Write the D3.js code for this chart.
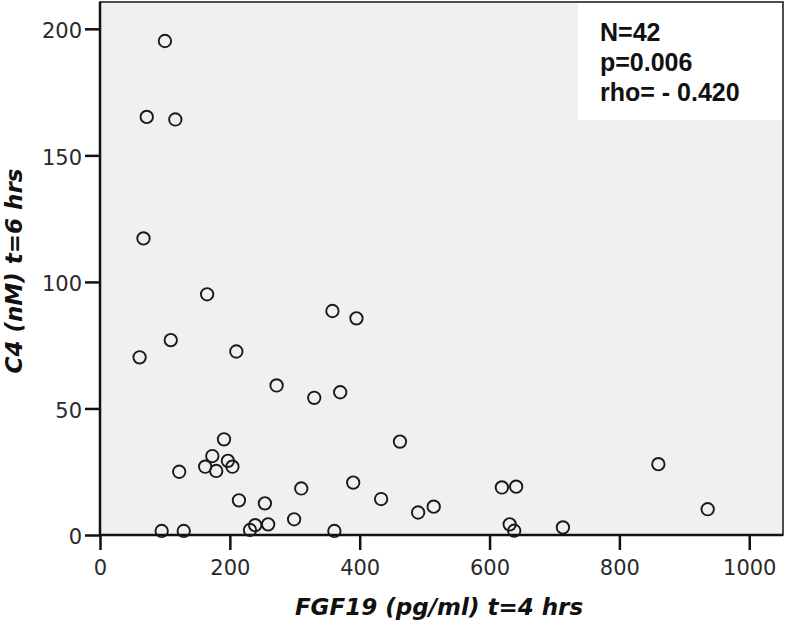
<!DOCTYPE html>
<html>
<head>
<meta charset="utf-8">
<script src="https://cdn.jsdelivr.net/npm/d3@7/dist/d3.min.js"></script>
<style>
  body{margin:0;background:#fff;}
</style>
</head>
<body>
<svg id="chart" width="787" height="629"></svg>
<script>
// FGF19 (pg/ml) t=4 hrs
var fgf19 = [100,72,116,67,165,109,61,210,358,395,272,330,370,191,462,173,162,179,197,204,
  122,214,95,129,254,239,231,259,299,310,361,390,433,490,514,619,641,631,638,713,860,936];
// C4 (nM) t=6 hrs
var c4 = [195.2,165.2,164.2,117.2,95.1,77.0,70.2,72.5,88.5,85.6,59.1,54.2,56.4,37.8,36.9,31.2,27.0,25.3,29.3,27.0,
  25.0,13.7,1.6,1.6,12.5,3.9,2.0,4.2,6.2,18.4,1.6,20.7,14.2,8.9,11.2,18.8,19.1,4.2,1.7,3.0,28.0,10.2];

var xTicks = [0,200,400,600,800,1000];
var yTicks = [0,50,100,150,200];
var statLines = ["N=42","p=0.006","rho= - 0.420"];

var svg = d3.select("#chart");

var x = d3.scaleLinear().domain([0,1052]).range([100,783]);
var y = d3.scaleLinear().domain([0,210.6]).range([535,2]);

// plot background
svg.append("rect")
  .attr("x",100).attr("y",2)
  .attr("width",683).attr("height",533)
  .attr("fill","#f0f0f0");

// stats box
var box = svg.append("g").attr("class","stats");
box.append("rect")
  .attr("x",578).attr("y",2)
  .attr("width",205).attr("height",118)
  .attr("fill","#fff");
box.selectAll("text")
  .data(statLines)
  .enter()
  .append("text")
  .attr("x",600)
  .attr("y",function(d,i){return 41+i*30;})
  .attr("font-family","'Liberation Sans',Arial,sans-serif")
  .attr("font-weight","bold")
  .attr("font-size",25)
  .attr("fill","#111")
  .text(function(d){return d;});

// frame
svg.append("rect")
  .attr("x",100).attr("y",2)
  .attr("width",683).attr("height",533)
  .attr("fill","none")
  .attr("stroke","#222")
  .attr("stroke-width",1.6);

var xAxis = svg.append("g")
  .attr("transform","translate(0,535)")
  .call(d3.axisBottom(x).tickValues(xTicks).tickFormat(d3.format("d")).tickSize(15).tickPadding(10));
var yAxis = svg.append("g")
  .attr("transform","translate(100,0)")
  .call(d3.axisLeft(y).tickValues(yTicks).tickFormat(d3.format("d")).tickSize(15).tickPadding(3));

[xAxis,yAxis].forEach(function(a){
  a.select(".domain").attr("stroke","#111").attr("stroke-width",2.5);
  a.selectAll(".tick line").attr("stroke","#111").attr("stroke-width",2.5);
  a.selectAll(".tick text")
    .attr("font-family","'DejaVu Sans',Verdana,sans-serif")
    .attr("font-size",21)
    .attr("fill","#2a2a2a");
});
yAxis.selectAll(".tick text").attr("dy","0.42em");
// plain axis lines, no outer ticks
xAxis.select(".domain").attr("d","M100,0H783");
yAxis.select(".domain").attr("d","M0,2V535");

// points
svg.append("g")
  .attr("class","points")
  .selectAll("circle")
  .data(fgf19)
  .enter()
  .append("circle")
  .attr("cx",function(d){return x(d);})
  .attr("cy",function(d,i){return y(c4[i]);})
  .attr("r",6.2)
  .attr("fill","none")
  .attr("stroke","#1a1a1a")
  .attr("stroke-width",1.9);

// axis titles
svg.append("text")
  .attr("x",439).attr("y",615)
  .attr("text-anchor","middle")
  .attr("font-family","'DejaVu Sans',Verdana,sans-serif")
  .attr("font-weight","bold")
  .attr("font-style","italic")
  .attr("font-size",23)
  .attr("fill","#111")
  .text("FGF19 (pg/ml) t=4 hrs");

svg.append("text")
  .attr("transform","translate(22,271) rotate(-90)")
  .attr("text-anchor","middle")
  .attr("font-family","'DejaVu Sans',Verdana,sans-serif")
  .attr("font-weight","bold")
  .attr("font-style","italic")
  .attr("font-size",23)
  .attr("fill","#111")
  .text("C4 (nM) t=6 hrs");
</script>
</body>
</html>
